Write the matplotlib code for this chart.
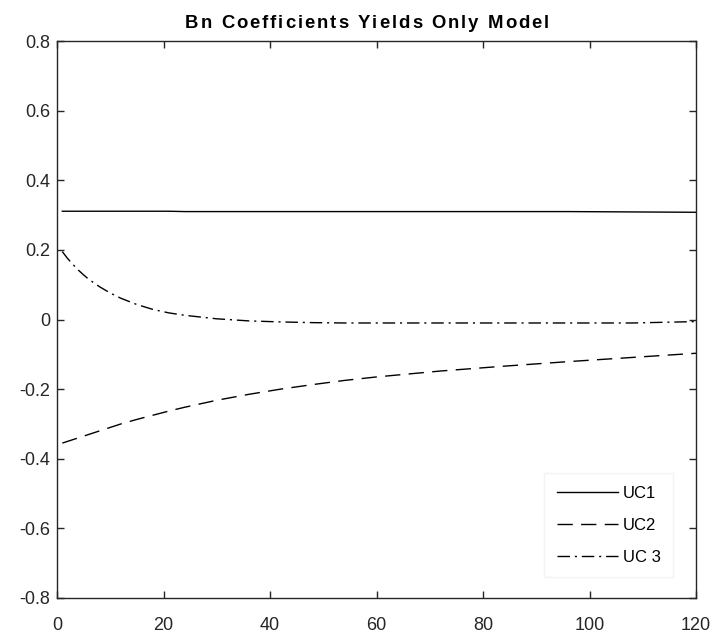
import matplotlib
matplotlib.use("Agg")
import matplotlib.pyplot as plt
from matplotlib.font_manager import FontProperties
from matplotlib.textpath import text_to_path

plt.rcParams['font.family'] = ['Liberation Sans', 'DejaVu Sans']

months = [1, 2, 3, 4, 5, 6, 8, 10, 12, 15, 18, 21, 24, 30, 36, 42, 48, 54, 60, 72, 84, 96, 108, 120]
uc1 = [0.311, 0.311, 0.311, 0.311, 0.311, 0.311, 0.311, 0.311, 0.311, 0.311, 0.311, 0.311, 0.310,
       0.310, 0.310, 0.310, 0.310, 0.310, 0.310, 0.310, 0.310, 0.310, 0.309, 0.308]
uc2 = [-0.355, -0.350, -0.345, -0.340, -0.335, -0.330, -0.320, -0.310, -0.300, -0.287, -0.275,
       -0.263, -0.252, -0.232, -0.215, -0.200, -0.187, -0.175, -0.165, -0.148, -0.134, -0.121,
       -0.109, -0.097]
uc3 = [0.195, 0.175, 0.158, 0.142, 0.128, 0.115, 0.094, 0.076, 0.061, 0.043, 0.029, 0.019, 0.012,
       0.002, -0.004, -0.007, -0.009, -0.010, -0.010, -0.010, -0.010, -0.010, -0.010, -0.006]

labels = ['UC1', 'UC2', 'UC 3']
title = 'Bn Coefficients Yields Only Model'
xticks = [0, 20, 40, 60, 80, 100, 120]
yticks = [-0.8, -0.6, -0.4, -0.2, 0, 0.2, 0.4, 0.6, 0.8]
yticklabels = ['-0.8', '-0.6', '-0.4', '-0.2', '0', '0.2', '0.4', '0.6', '0.8']

W, H, DPI = 715, 639, 100
fig = plt.figure(figsize=(W / DPI, H / DPI), dpi=DPI)
ax = fig.add_axes([57 / W, 1 - 598 / H, (696 - 57) / W, (598 - 41) / H])

ax.plot(months, uc1, color='black', lw=1.0, linestyle='-', label=labels[0])
ax.plot(months, uc2, color='black', lw=1.0, linestyle=(0, (11, 6)), label=labels[1])
ax.plot(months, uc3, color='black', lw=1.0, linestyle=(0, (9, 3.5, 1.5, 3.5)), label=labels[2])

ax.set_xlim(0, 120)
ax.set_ylim(-0.8, 0.8)
ax.set_xticks(xticks)
ax.set_yticks(yticks)
ax.set_xticklabels([str(v) for v in xticks])
ax.set_yticklabels(yticklabels)
ax.tick_params(direction='in', top=True, right=True, length=5, width=1.0,
               labelsize=13, colors='#262626')
ax.tick_params(axis='x', pad=14)
ax.tick_params(axis='y', pad=5)
for s in ax.spines.values():
    s.set_color('#262626')
    s.set_linewidth(1.0)

# Title with letter spacing
prop = FontProperties(family='Liberation Sans', size=13.3, weight='bold')
track_px = 2.0
widths = [text_to_path.get_text_width_height_descent(c, prop, ismath=False)[0] * DPI / 72
          for c in title]
total = sum(widths) + track_px * (len(title) - 1)
x = 367 - total / 2
for c, w in zip(title, widths):
    fig.text(x / W, 1 - 28.3 / H, c, fontproperties=prop, ha='left', va='baseline',
             color='black')
    x += w + track_px

leg = ax.legend(loc='lower right', frameon=True, fancybox=False, fontsize=12,
                handlelength=3.7, handletextpad=0.25, borderpad=0.75, labelspacing=1.02,
                borderaxespad=0, bbox_to_anchor=(1 - 23 / 639, 21 / 557))
leg.get_frame().set_edgecolor('#f0f0f0')
leg.get_frame().set_linewidth(1.0)

fig.savefig('out.png', dpi=DPI, facecolor='white')
